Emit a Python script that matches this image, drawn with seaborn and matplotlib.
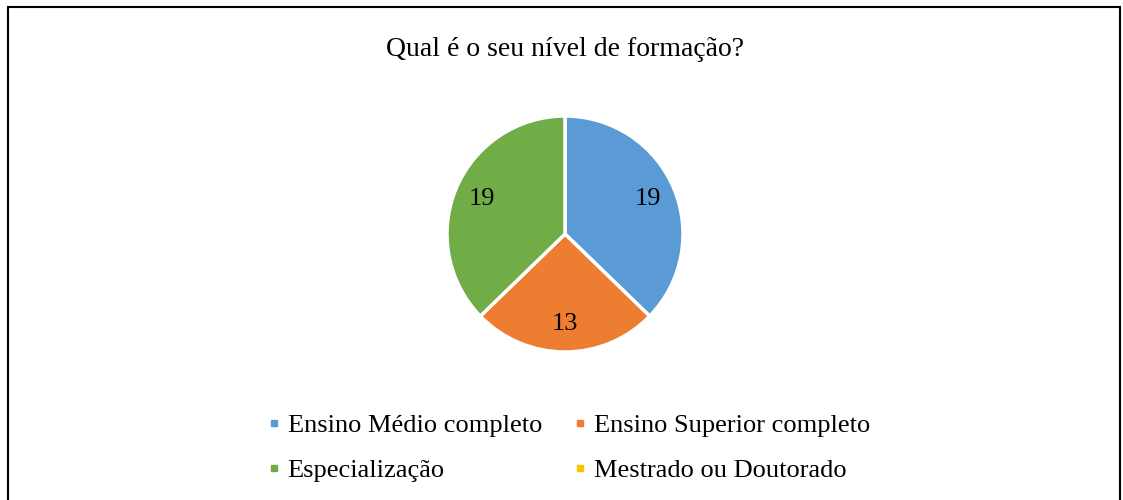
import matplotlib
matplotlib.use("Agg")
import matplotlib.pyplot as plt
import seaborn as sns
from matplotlib.patches import Rectangle
from matplotlib.lines import Line2D

categories = ["Ensino Médio completo", "Ensino Superior completo",
              "Especialização", "Mestrado ou Doutorado"]
values = [19, 13, 19, 0]
colors = ["#5B9BD5", "#ED7D31", "#70AD47", "#FFC000"]
title = "Qual é o seu nível de formação?"

sns.set_theme(style="white")
plt.rcParams['font.family'] = ['Liberation Serif', 'DejaVu Serif']
plt.rcParams['text.color'] = 'black'

W, H = 1123, 500
fig = plt.figure(figsize=(W / 100, H / 100), dpi=100)
fig.patch.set_facecolor("white")

# outer frame
fig.add_artist(Rectangle((8 / W, -0.05), (1120 - 8) / W, 1.05 - 7 / H,
                         transform=fig.transFigure, fill=False,
                         edgecolor="black", linewidth=1.5))

cx, cy, r = 565, 234, 118
ax = fig.add_axes([(cx - r) / W, (H - cy - r) / H, 2 * r / W, 2 * r / H])
nz = [(c, v, col) for c, v, col in zip(categories, values, colors) if v > 0]
wedges, texts, autotexts = ax.pie(
    [v for _, v, _ in nz], colors=[col for _, _, col in nz],
    startangle=90, counterclock=False, radius=1.0,
    wedgeprops=dict(edgecolor="white", linewidth=2.5),
    autopct=lambda p: f"{round(p * sum(values) / 100):d}",
    pctdistance=0.76, textprops=dict(fontsize=19, color="black"))
ax.set_xlim(-1.0, 1.0)
ax.set_ylim(-1.0, 1.0)
ax.set_aspect("equal")
ax.axis("off")

fig.text(cx / W, 1 - 49 / H, title, ha="center", va="center", fontsize=20,
         color="black")

handles = [Line2D([], [], marker="s", linestyle="none", markersize=5,
                  markerfacecolor=c, markeredgecolor=c) for c in colors]
order = [0, 2, 1, 3]  # row-major layout in two columns
leg = fig.legend([handles[i] for i in order], [categories[i] for i in order],
                 ncol=2, loc="center",
                 bbox_to_anchor=(568 / W, 1 - 448 / H), frameon=False,
                 fontsize=19, handlelength=0.6, handletextpad=0.23,
                 columnspacing=1.15, labelspacing=0.8)
for t in leg.get_texts():
    t.set_color("black")

fig.savefig("out.png", dpi=100, facecolor="white")
